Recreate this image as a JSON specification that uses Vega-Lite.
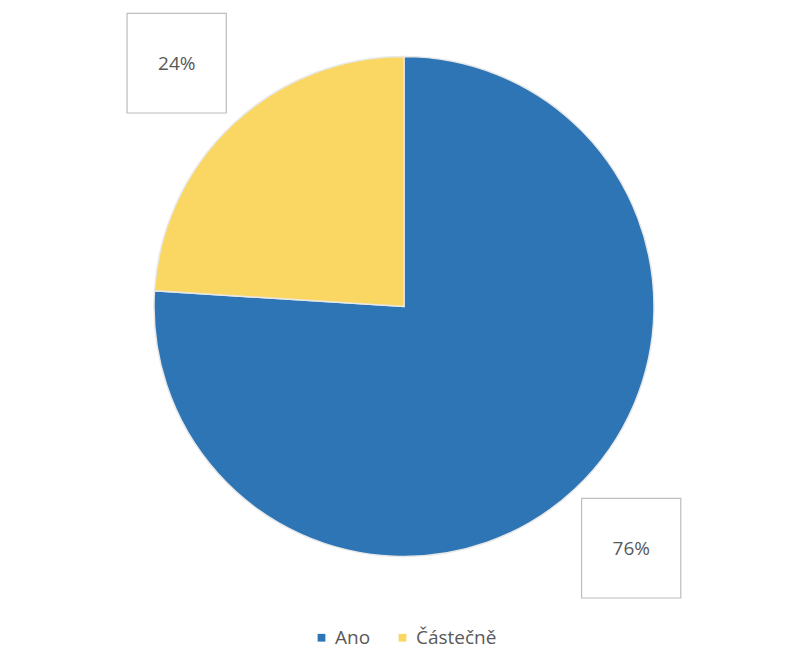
{
  "$schema": "https://vega.github.io/schema/vega-lite/v6.json",
  "autosize": {"type": "fit", "contains": "padding"},
  "width": 808,
  "height": 653,
  "padding": {"left": 0, "right": 0, "top": 5, "bottom": 5},
  "background": "white",
  "config": {"legend": {"layout": {"bottom": {"anchor": "middle"}}}},
  "data": {"values": [
    {"kategorie": "Ano", "podil": 76, "popisek": "76%"},
    {"kategorie": "Částečně", "podil": 24, "popisek": "24%"}
  ]},
  "encoding": {
    "theta": {"field": "podil", "type": "quantitative", "stack": true},
    "order": {"field": "podil", "type": "quantitative", "sort": "descending"}
  },
  "layer": [
    {
      "mark": {"type": "arc", "outerRadius": 250, "stroke": "#E8E8E8", "strokeWidth": 1.5},
      "encoding": {
        "color": {
          "field": "kategorie", "type": "nominal",
          "scale": {"domain": ["Ano", "Částečně"], "range": ["#2E75B6", "#FAD763"]},
          "legend": {
            "title": null, "orient": "bottom", "direction": "horizontal",
            "symbolType": "square", "symbolSize": 60, "symbolStrokeWidth": 0,
            "labelFontSize": 19, "labelColor": "#595959", "labelFont": "Open Sans",
            "columnPadding": 22, "offset": 20
          }
        }
      }
    },
    {
      "mark": {"type": "text", "text": "■", "font": "DejaVu Sans", "fontSize": 130, "fill": "white", "stroke": "#BFBFBF", "strokeWidth": 1.2, "radius": 332, "baseline": "middle", "align": "center", "dy": -6},
      "encoding": {}
    },
    {
      "mark": {"type": "text", "fontSize": 19, "font": "Open Sans", "color": "#595959", "radius": 332},
      "encoding": {"text": {"field": "popisek"}}
    }
  ]
}
